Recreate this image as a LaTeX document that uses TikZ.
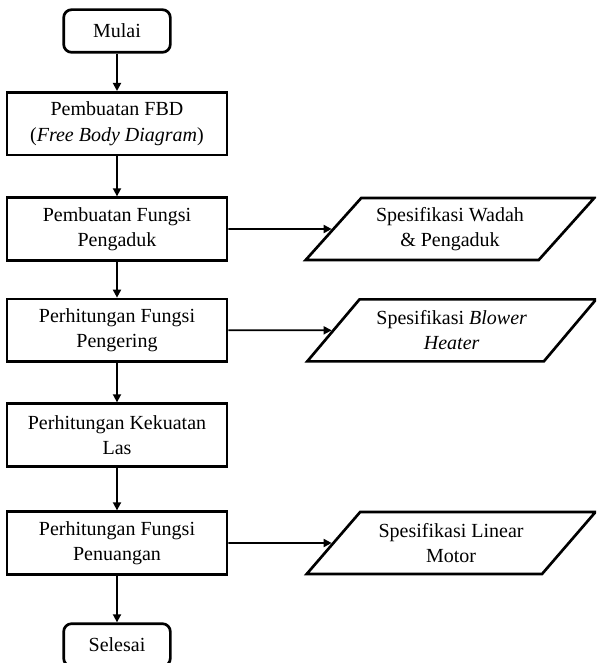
\documentclass[tikz,border=0pt]{standalone}
\usepackage{fontspec}
\setmainfont{Liberation Serif}
\usepackage{tikz}
\usetikzlibrary{shapes.geometric, arrows.meta, positioning}
\tikzstyle{arrow} = [line width=1.3pt,-{Triangle[length=6pt,width=6pt]}]

\begin{document}
\begin{tikzpicture}[
    x=0.75pt, y=-0.75pt,
    process/.style={draw, rectangle, line width=2pt, minimum width=165pt, minimum height=47pt, align=center, font=\fontsize{15}{19}\selectfont},
    terminal/.style={process, rounded corners=6pt, minimum width=80pt, minimum height=32pt},
    data/.style={draw, trapezium, trapezium left angle=47, trapezium right angle=133, trapezium stretches=true, line width=2pt, minimum width=217pt, minimum height=46.5pt, align=center, font=\fontsize{15}{19}\selectfont}
]
\useasboundingbox (0,0) rectangle (596,663);
\clip (0,0) rectangle (596,663);

% main flow
\node[terminal] (mulai) at (117,31) {Mulai};
\node[process, below=28pt of mulai] (fbd) {Pembuatan FBD\\(\textit{Free Body Diagram})};
\node[process, below=30pt of fbd] (pengaduk) {Pembuatan Fungsi\\Pengaduk};
\node[process, below=27pt of pengaduk] (pengering) {Perhitungan Fungsi\\Pengering};
\node[process, below=29.5pt of pengering] (las) {Perhitungan Kekuatan\\Las};
\node[process, below=32pt of las] (penuangan) {Perhitungan Fungsi\\Penuangan};
\node[terminal, below=35pt of penuangan] (selesai) {Selesai};

% outputs
\node[data, right=77.5pt of pengaduk] (specwadah) {Spesifikasi Wadah\\\& Pengaduk};
\node[data, right=77.5pt of pengering] (specblower) {Spesifikasi \textit{Blower}\\\textit{Heater}};
\node[data, right=77.5pt of penuangan] (specmotor) {Spesifikasi Linear\\Motor};

\foreach \a/\b in {mulai/fbd, fbd/pengaduk, pengaduk/pengering, pengering/las, las/penuangan, penuangan/selesai,
                   pengaduk/specwadah, pengering/specblower, penuangan/specmotor}
    \draw[arrow] (\a) -- (\b);
\end{tikzpicture}
\end{document}
